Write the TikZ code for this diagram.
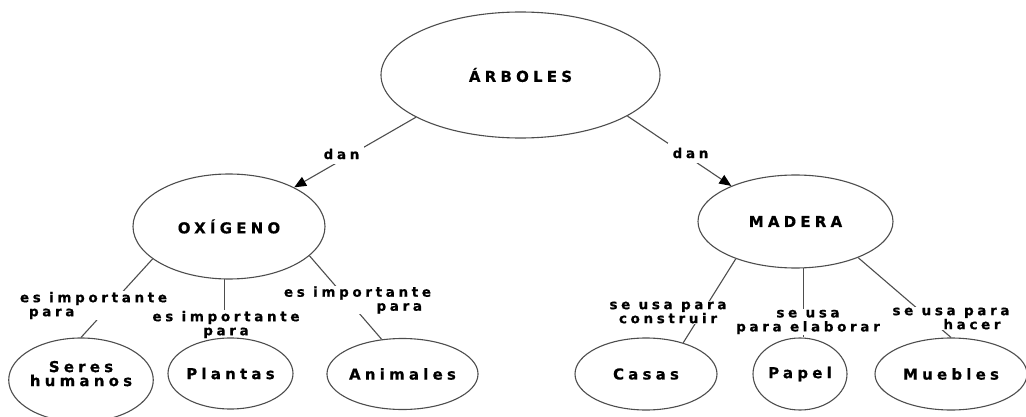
\documentclass[tikz,border=0pt]{standalone}
\usepackage{fontspec}
\newfontfamily\rotulo[LetterSpace=28, BoldFeatures={FakeBold=0.6}]{DejaVu Sans}
\newfontfamily\enlacefont[LetterSpace=27, BoldFeatures={FakeBold=0.6}]{DejaVu Sans}
\usepackage{tikz}
\usetikzlibrary{shapes,arrows.meta,positioning,backgrounds}
\definecolor{trazo}{HTML}{4D4D4D}

\begin{document}
\begin{tikzpicture}
    [x=1pt, y=-1pt,
     concepto/.style={ellipse, draw=trazo, line width=1.1pt, inner sep=0pt, align=center,
       font=\rotulo\bfseries\fontsize{15}{14}\selectfont},
     enlace/.style={fill=white, inner xsep=2pt, inner ysep=0.5pt,
       font=\enlacefont\bfseries\fontsize{13.5}{14}\selectfont},
     linea/.style={draw=trazo, line width=1.1pt},
     flecha/.style={linea, -{Triangle[length=12pt, width=10pt, color=black]}}]
    \useasboundingbox (0,0) rectangle (1026,417);

    \node (arb) [concepto, minimum width=279pt, minimum height=126pt] at (520.5,75) {ÁRBOLES};
    \node (oxi) [concepto, minimum width=192pt, minimum height=105pt] at (229,226.5) {OXÍGENO};
    \node (mad) [concepto, minimum width=195pt, minimum height=93pt] at (795.5,221.5) {MADERA};

    \node (ser) [concepto, minimum width=142pt, minimum height=84pt, text depth=13pt] at (81,380) {Seres\\humanos};
    \node (pla) [concepto, minimum width=125pt, minimum height=71pt] at (230.5,373.5) {Plantas};
    \node (ani) [concepto, minimum width=149pt, minimum height=71pt] at (402.5,374) {Animales};
    \node (cas) [concepto, minimum width=142pt, minimum height=72pt] at (646,374) {Casas};
    \node (pap) [concepto, minimum width=94pt, minimum height=72pt] at (800,374) {Papel};
    \node (mue) [concepto, minimum width=152pt, minimum height=72pt] at (951,374) {Muebles};

    \begin{scope}[on background layer]
    \draw [flecha] (arb.202) -- (oxi.31);
    \draw [flecha] (arb.-21) -- (mad.151);
    \draw [linea] (oxi.203) -- (ser.north);
    \draw [linea] (oxi.265) -- (oxi.265 |- pla.north);
    \draw [linea] (oxi.-20) -- (ani.121);
    \draw [linea] (mad.212) -- (cas.40);
    \draw [linea] (mad.-80) -- (mad.-80 |- pap.north);
    \draw [linea] (mad.-30) -- (mue.north);

    \node (dan1) [enlace, inner sep=5pt] at (341.5,154) {dan};
    \node (dan2) [enlace, inner sep=5pt] at (690.5,153) {dan};
    \node (imp1) [enlace, align=left] at (93.5,305.5) {es importante\\\hspace*{9pt}para};
    \node (imp3) [enlace, align=right] at (357.5,300) {es importante\\para\hspace*{9pt}};
    \node (imp2) [enlace, align=center] at (226,324.5) {es importante\\para};
    \node (uso1) [enlace, align=center] at (668,312.5) {se usa para\\construir};
    \node (uso2) [enlace, align=center] at (808,322) {se usa\\para elaborar};
    \node (uso3) [enlace, align=right] at (951,318.5) {se usa para\\hacer\hspace*{9pt}};
    \end{scope}
\end{tikzpicture}
\end{document}
